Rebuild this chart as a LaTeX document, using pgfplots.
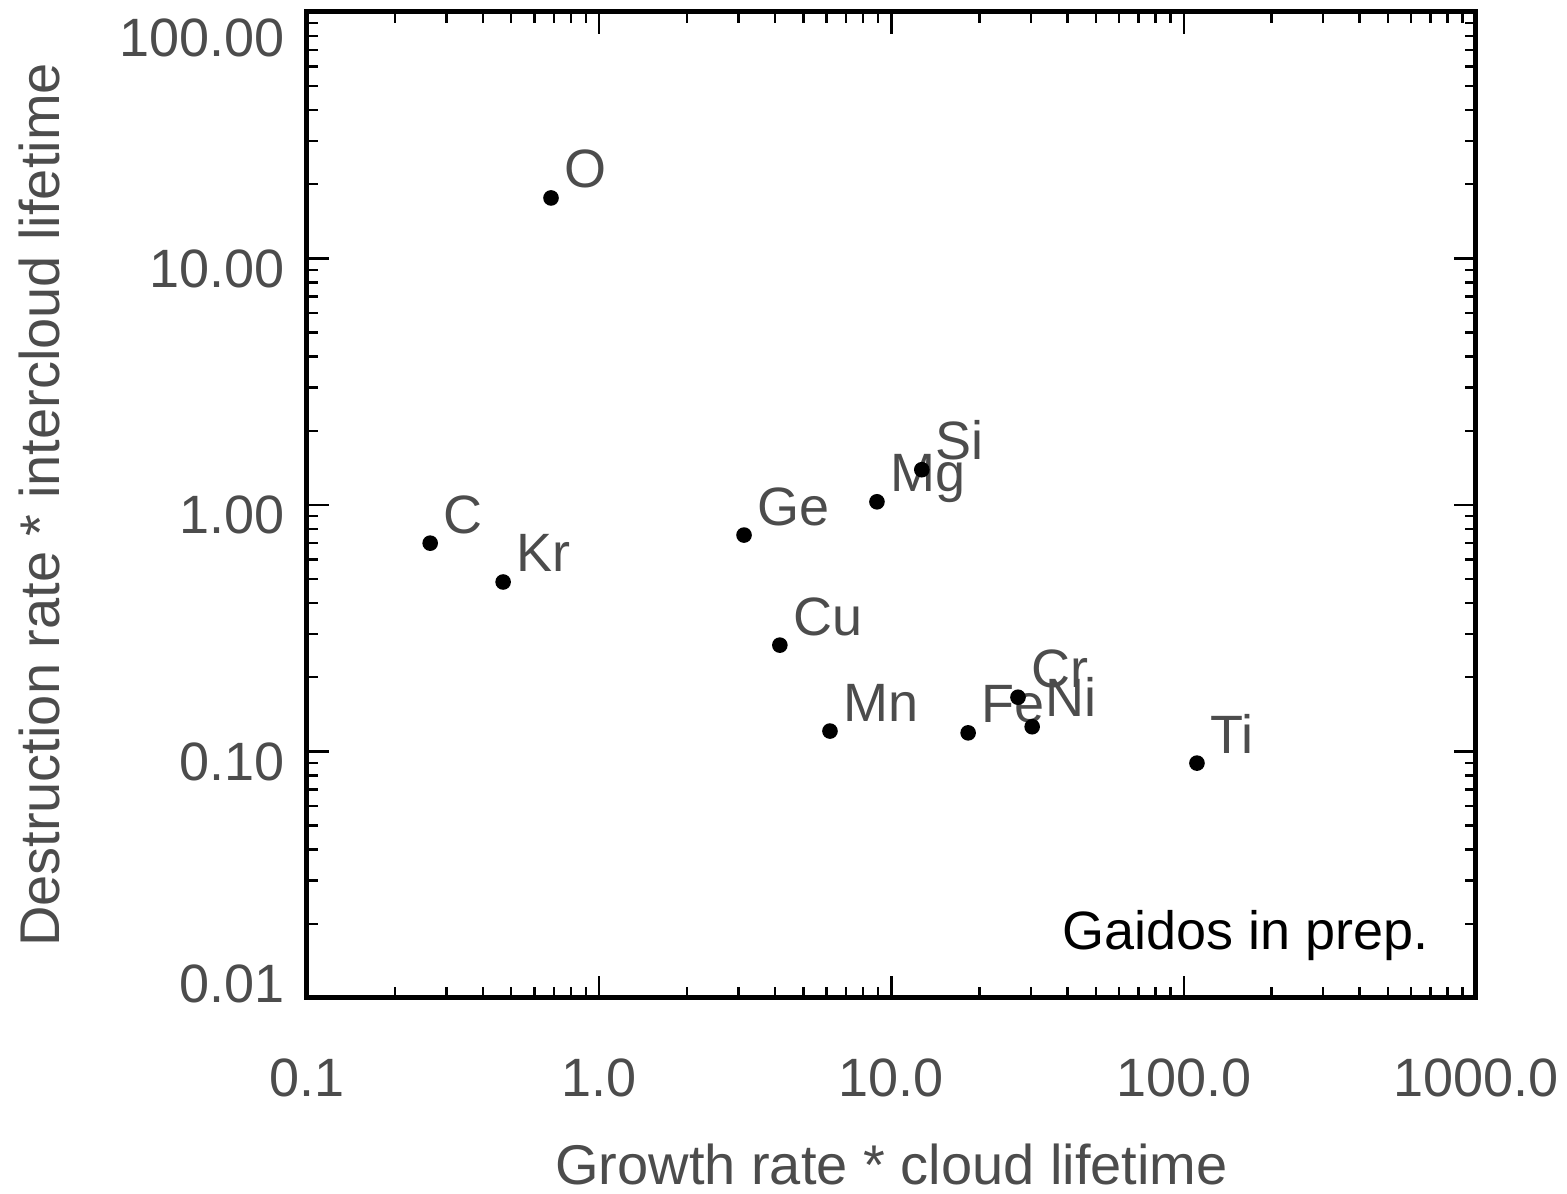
\documentclass[border=0pt]{standalone}
\usepackage{fontspec}
\setmainfont{Liberation Sans}
\usepackage{pgfplots}
\pgfplotsset{compat=1.18}
\definecolor{labgray}{gray}{0.3}
\pgfplotstableread{
x y lab
0.684 17.6 O
0.264 0.70 C
0.469 0.487 Kr
3.13 0.755 Ge
8.92 1.03 Mg
12.7 1.39 Si
4.15 0.270 Cu
6.16 0.121 Mn
18.3 0.119 Fe
27.1 0.166 Cr
30.3 0.126 Ni
111 0.0897 Ti
}\datatab
\begin{document}
\begin{tikzpicture}
\useasboundingbox (-76.75pt,-49pt) rectangle (315pt,249.5pt);
\begin{axis}[
  xmode=log, ymode=log,
  scale only axis, width=292.25pt, height=246.5pt,
  xmin=0.1, xmax=1000, ymin=0.01, ymax=100,
  axis line style={line width=1.25pt},
  every tick/.style={black, line width=0.6pt},
  major tick length=5.5pt, minor tick length=2.75pt,
  tick align=inside, tick pos=both,
  xtick={0.1,1,10,100,1000},
  xticklabels={0.1,1.0,10.0,100.0,1000.0},
  minor xtick={0.2,0.3,0.4,0.5,0.6,0.7,0.8,0.9,2,3,4,5,6,7,8,9,20,30,40,50,60,70,80,90,200,300,400,500,600,700,800,900},
  ytick={0.01,0.1,1,10,100},
  yticklabels={\raisebox{6pt}{0.01},0.10,1.00,10.00,\raisebox{-4pt}{100.00}},
  minor ytick={0.02,0.03,0.04,0.05,0.06,0.07,0.08,0.09,0.2,0.3,0.4,0.5,0.6,0.7,0.8,0.9,2,3,4,5,6,7,8,9,20,30,40,50,60,70,80,90},
  xticklabel style={anchor=base, inner sep=0pt, yshift=-24.75pt, font=\fontsize{13.5}{16}\selectfont, text=labgray},
  yticklabel style={anchor=base east, inner sep=0pt, xshift=-5.5pt, yshift=-7.25pt, font=\fontsize{13.5}{16}\selectfont, text=labgray},
  every axis x label/.style={at={(axis description cs:0.5,-0.1887)}, anchor=base, font=\fontsize{14}{16}\selectfont, text=labgray},
  every axis y label/.style={at={(axis description cs:-0.2113,0.5)}, rotate=90, anchor=base, font=\fontsize{14}{16}\selectfont, text=labgray},
  xlabel={Growth rate * cloud lifetime},
  ylabel={Destruction rate * intercloud lifetime},
]
\addplot[only marks, mark=*, mark size=1.75pt, black,
  point meta=explicit symbolic, nodes near coords,
  every node near coord/.style={anchor=base west, inner sep=0pt, xshift=3.2pt, yshift=2.5pt, font=\fontsize{13.5}{15}\selectfont, text=labgray}]
  table[x=x, y=y, meta=lab] {\datatab};
\node[anchor=base west, inner sep=0pt, font=\fontsize{13.5}{15}\selectfont] at (rel axis cs:0.6459,0.0487) {Gaidos in prep.};
\end{axis}
\end{tikzpicture}
\end{document}
